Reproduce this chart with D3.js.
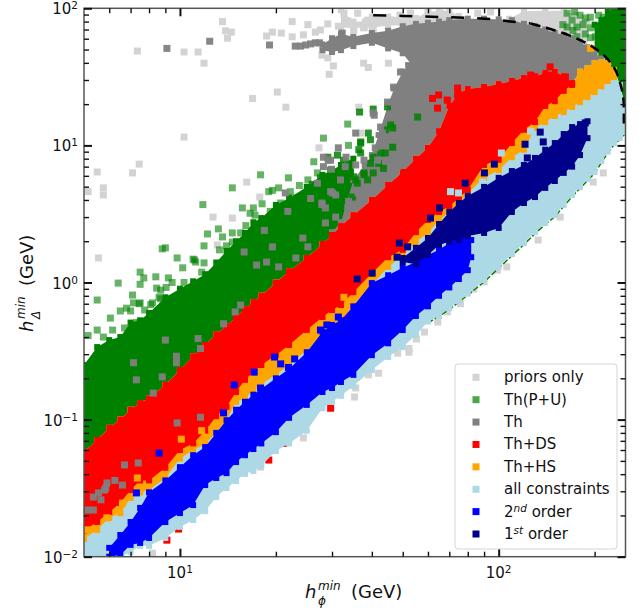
<!DOCTYPE html>
<html>
<head>
<meta charset="utf-8">
<script src="https://cdnjs.cloudflare.com/ajax/libs/d3/7.8.5/d3.min.js"></script>
<style>
    body { margin: 0; background: #fff; }
    text { font-family: "DejaVu Sans", sans-serif; fill: #111; }
</style>
</head>
<body>
<div id="chart"></div>
<script>
// all values in GeV. edges of the dense clouds first, loose points after
const grid = [5, 5.5, 6, 6.5, 7, 7.5, 8, 9, 10, 11, 12, 13, 14, 15, 16, 17, 18, 20, 22, 25, 28, 30, 32, 35, 40, 45, 50, 55, 60, 65, 70, 75, 80, 90, 100, 110, 120, 130, 140, 150, 160, 170, 180, 190, 200, 210, 220, 230, 240, 250];

const greenTop = [.25, .338, .38, .40, .51, .53, .6, .78, .9, 1.02, 1.15, 1.4, 1.7, 2.0, 2.3, 2.75, 2.95, 3.68, 4.14, 4.98, 6.1, 6.6, 7.2, 8];
const redTop = [.058, .071, .087, .10, .118, .132, .143, .179, .23, .29, .35, .42, .48, .56, .64, .72, .80, 1.0, 1.21, 1.51, 1.91, 2.22, 2.58, 3.1, 4.0, 5.15, 6.4, 8.0, 9.6, 12.7, 19.4, 24, 25.8, 26.7, 28, 29.5, 31, 32, 33.7, 34.5, 32, 28.5];
const redBottom = [.0155, .0179, .0212, .0246, .0306, .036, .036, .0445, .060, .067, .083, .106, .124, .159, .195, .222, .25, .295, .35, .45, .56, .63, .685, .85, 1.17, 1.53, 1.73, 2.33, 2.86, 3.27, 3.6, 4.14, 4.73, 7.2, 7.85, 10.4, 13, 14.8, 19.4, 21, 25, 27.6];
const orangeTipTop = [34.5, 36.7, 39.7, 40.5, 39.7, 35.5];
const orangeBottom = [.0135, .0157, .0192, .0208, .0268, .0295, .0306, .0375, .052, .060, .066, .081, .099, .135, .143, .164, .182, .212, .25, .32, .40, .475, .52, .685, .96, 1.3, 1.59, 1.98, 2.3, 2.86, 3.27, 3.75, 4.5, 5.8, 6.6, 8.2, 9.3, 13.4, 14.8, 16.4, 17.5, 19.1, 20.7, 22.5, 24.5, 27, 29.5, 31.5];
const allTipTop = [27.6, 19];
const allBottom = [.01, .01, .01, .01, .0108, .012, .012, .0137, .0165, .0185, .0215, .0272, .0317, .0356, .0402, .0422, .046, .059, .067, .083, .121, .135, .149, .176, .23, .286, .338, .414, .52, .57, .65, .73, .83, 1.04, 1.3, 1.61, 1.94, 2.33, 2.72, 3.1, 3.68, 4.35, 4.98, 5.7, 6.4, 7.7, 9.0, 10.4, 11.3, 12.5];

const capX = [28, 30, 32, 35, 40, 45, 50, 55, 60, 65, 70, 80, 90, 100, 110, 120, 130, 140, 150, 160, 170, 180, 190, 200, 210, 220, 230];
const capTop = [54.5, 60.5, 65, 62, 66, 68.5, 74, 77, 78.5, 80, 82, 84, 84, 83, 82, 77, 74, 70, 66, 64, 60.5, 57, 52, 47.5, 43, 38.5, 35.5];
const capBottom = [49.5, 48, 49.5, 53, 56, 51, 47, 35, 30, 25, 22, 24, 25, 26, 28, 29, 30, 30, 30, 28, 25, 25, 25, 28, 30, 32, 33];
const bodyX = [30, 32, 35, 38, 40, 42, 45, 47, 50, 52, 55, 60, 70, 80];
const bodyTop = [2.33, 2.75, 5.6, 7.2, 8.5, 11.9, 20, 26, 34.5, 38.5, 45.5, 70, 76, 76];
const bodyBottom = [2.0, 2.4, 2.9, 3.4, 3.8, 4.3, 4.9, 5.4, 6.0, 6.6, 7.5, 9.0, 18, 24];

const cornerX = [200, 210, 220, 230, 240, 250];
const cornerTop = [76, 82, 94, 97, 99, 100];
const cornerBottom = [49.5, 45.5, 42, 36.7, 27.6, 19];
const priorBandX = [108, 120, 140, 160, 175, 190];
const priorBandTop = [84, 95, 96, 96, 90, 80];
const priorBandBottom = [70, 70, 60, 55, 50, 45];
const priorStripX = [32, 35, 38, 40, 45, 50, 55, 60, 65, 70, 75];
const priorStripTop = [97, 80, 80, 87, 87, 86, 85, 94, 96, 96, 88];
const priorStripBottom = [72, 72, 72, 72, 75, 75, 75, 76, 78, 80, 80];

const secondX = [6, 6.5, 7, 7.5, 8, 9, 10, 11, 12, 13, 14, 15, 16, 17, 18, 20, 22, 25, 28, 30, 32, 35, 40, 45, 50, 55, 60, 65, 70, 75, 80, 82];
const secondTop = [.0116, .0144, .0179, .0227, .0295, .036, .045, .055, .063, .080, .099, .118, .135, .152, .167, .20, .234, .31, .436, .49, .53, .67, .99, 1.13, 1.28, 1.41, 1.59, 1.73, 1.94, 2.11, 2.22, 2.04];
const secondBottom = [.01, .0103, .0122, .0126, .0137, .0179, .0208, .0238, .0333, .0375, .0407, .049, .055, .061, .067, .081, .103, .128, .159, .17, .188, .212, .295, .36, .45, .57, .67, .80, .92, 1.06, 1.23, 1.53];
const firstX = [50, 55, 60, 65, 70, 75, 80, 90, 100, 110, 120, 130, 140, 150, 160, 170, 180, 190];
const firstTop = [1.51, 1.79, 2.11, 2.67, 3.27, 3.8, 4.28, 4.98, 5.8, 6.5, 7.2, 8.1, 9.3, 10.4, 12.1, 13.6, 14.3, 15];
const firstBottom = [1.41, 1.36, 1.59, 1.88, 1.98, 2.04, 2.18, 2.3, 2.5, 3.27, 3.8, 4.2, 4.9, 5.5, 6.3, 7.0, 8.5, 11.3];

const fringeX = [60, 70, 80, 90, 100, 110, 120, 130, 140, 150, 160, 170, 180, 190, 200, 210, 220, 230, 240, 250];
const fringeY = [.505, .635, .81, 1.01, 1.27, 1.57, 1.89, 2.27, 2.65, 3.02, 3.59, 4.24, 4.86, 5.56, 6.24, 7.5, 8.78, 10.1, 11.0, 12.2];
const limitLeftX = [40.4, 50.3, 70.6, 90.6, 109, 126];
const limitLeftY = [89, 88, 86, 84, 80, 77.5];
const limitRightX = [126, 159, 185, 208, 230, 241, 247, 247];
const limitRightY = [77.5, 66, 57, 48, 37, 28, 19, 13.4];

const priorPoints = [[7.35, 48.8], [10.3, 48], [11.4, 48], [11.9, 39.8], [13.6, 80], [13.9, 68.5], [14.5, 67], [14.1, 60.5], [18.7, 62.8], [19.5, 67], [20.8, 66], [22.5, 80], [22.5, 62], [24.4, 64], [25.2, 76], [26.6, 67], [27.6, 69.5], [29.1, 77], [31.4, 74], [32.7, 92], [33.6, 81], [27.9, 45.5], [29.1, 43.5], [30.3, 38], [29.4, 33], [20.2, 24.5], [16.9, 22], [21.5, 19], [10.3, 11.5], [7.45, 7.3], [7.1, 6.3], [5.5, 6.4], [5.75, 4.9], [5.75, 4.35], [5.15, 4.6], [16.2, 5.4], [17.8, 4.2], [22.5, 4.2], [12.7, 3.0], [14.6, 2.95], [13.1, 1.88], [5.55, 1.51], [27.3, 9.6], [37.7, 39.8], [39, 37], [45.1, 39.8], [36.4, 19], [36.9, 12.3], [36.1, 92], [38.8, 82], [52.9, 92], [60, 94], [65.7, 92], [86, 92], [94.3, 94], [61, 78], [69, 80], [35.1, 69.5], [37.7, 72], [40.4, 69.5], [45.8, 82], [52.9, 80], [33, 58], [49, 89], [90, 1.01], [83.6, .895], [75.9, .70], [69, .61], [64.4, .515], [58.5, .435], [55.2, .387], [52.3, .33], [52.3, .31], [48.2, .305], [42, .218], [39, .212], [35.6, .17], [35.3, .146], [213, 6.3], [198, 5.4], [156, 3.0], [133, 2.04], [106, 1.3], [99, 1.23], [24.4, .0735], [17.9, .045], [8.2, .0106]];
const greenPoints = [[33.6, 14.3], [28.2, 11.3], [33.8, 10], [26.3, 7.6], [17.9, 6.1], [14.6, 4.9], [21.9, 5.8], [25.2, 5.6], [27, 6.3], [20.4, 4.9], [19.5, 4.7], [19, 4.6], [11.8, 3.7], [15.7, 3.5], [17, 3.5], [16.6, 3.2], [20.7, 3.8], [13.2, 2.46], [14.6, 2.3], [12.2, 2.26], [13.6, 2.15], [14.6, 1.97], [11.9, 1.85], [9, 1.79], [8.8, 1.76], [9.8, 1.51], [11, 1.48], [11.9, 1.39], [10.2, 1.28], [7.5, 1.19], [7.7, 1.08], [8.4, 1.1], [9.2, 1.08], [6.4, .99], [7.5, .97], [5.5, .745], [7.1, .81], [7.5, .71], [8.6, .78], [6.05, .55], [6.5, .62], [5.5, .45], [5.75, .40], [5.15, .41], [6.15, .45], [7, .62], [8.1, .69], [8.7, .88], [7.5, .51], [7.15, .71], [7.45, .70], [6.8, .65], [7.75, .63], [7.3, .51], [6.7, .466], [8.2, .71], [8.7, .76], [9.05, .92], [9.45, 1.0], [10.3, 1.0], [11.1, 1.46], [11.7, 1.19], [8.45, .91], [17.2, 3.1], [18.1, 3.75], [19.2, 3.3], [16.1, 2.6], [22.2, 4.6], [23.7, 5.1], [15.5, 2.3], [13.3, 1.73], [11.2, 1.41], [14, 1.85], [164, 92], [180, 89], [164, 73], [159, 76], [176, 73], [184, 76], [194, 86], [204, 73], [213, 86], [230, 89], [201, 62], [194, 61], [220, 59], [170, 82], [171, 69], [187, 65], [173, 94], [187, 85], [206, 89], [194, 72], [216, 69.5], [227, 76], [208, 59], [176, 62]];
const greenOverPoints = [[36.6, 17.5], [40.4, 18.4], [44.8, 19.1], [39, 12.3], [45.8, 14.1], [46.5, 13.4], [36.9, 10.6], [39.6, 11], [46.5, 9.7], [44.1, 8.8], [40.4, 8.2], [36.9, 8.8], [35.1, 5.9], [36, 5.3], [39.6, 7.4], [42, 7.4], [43.5, 6.8], [34.8, 4.2], [37.8, 6.3], [55.7, 16.1], [37.8, 6.1], [34.3, 6.4], [32.6, 6.4], [42.6, 8.8], [36.4, 9.3], [36.9, 10.4], [44.1, 13], [34.3, 7.4], [32.6, 7.8], [29.1, 8.2], [31.2, 8.5], [35.6, 5.6], [38.8, 5.6], [40.4, 6.3], [29.7, 6.6], [27.6, 5.8], [26, 5.2]];
const greyPoints = [[9.1, 51], [12.4, 57.5], [19.1, 54], [23, 53], [23.9, 53], [24.8, 54], [25.7, 55], [26.6, 56], [27.4, 56], [29.7, 52], [30.8, 58], [32.3, 66], [31.4, 9.6], [28.2, 8.2], [29.2, 7.8], [33.2, 8.2], [28.2, 7], [29.9, 6.7], [27, 5.3], [21.4, 4.5], [25.7, 4.1], [30.1, 4.5], [21.8, 3.3], [27.9, 3.8], [28.6, 3.5], [33.6, 3.5], [18.4, 2.4], [28.6, 2.72], [30.8, 3], [24.3, 2.11], [15.9, 1.67], [19.5, 1.82], [25.2, 1.82], [23.1, 1.51], [18.7, 1.41], [17.4, 1.34], [20.4, 1.3], [15.5, .685], [14.9, .61], [13.7, .50], [9, .38], [11.4, .39], [9.75, .29], [9.75, .26], [7.15, .26], [7.3, .195], [8.8, .205], [11.6, .33], [8.25, .156], [5.55, .0292], [5.85, .0317], [5.35, .0272], [6.25, .036], [6.6, .0333], [5.15, .0219], [5.35, .0219], [7.4, .0483], [9.8, .0945], [11.6, .104], [46.8, 26.6], [44.8, 20.7], [42.6, 13.6], [40.4, 17.2], [35.6, 12.3], [49.2, 34.3], [41, 9.6], [43.5, 10.4], [41.7, 7.8], [47.4, 7.8], [48.2, 7], [43.2, 12.3], [35.6, 7.2], [33, 7], [40.7, 16.6], [29.7, 7.8], [31.9, 5.6], [29.7, 4.6], [27.9, 3.7], [30.8, 4.35], [33.8, 3.9], [36.2, 4.5], [39.6, 4.7], [37.8, 7.8], [5.9, .0345], [5.8, .0306], [5.65, .026], [6.7, .0467]];
const redPoints = [[64.8, 23.3], [62, 22], [64.3, 18.7], [74.3, 26.2], [74.3, 23.3], [69, 21.4], [126, 32.6], [145, 37.4], [143, 32.6], [162, 31.5], [111, 28.5]];
const redFringePoints = [[9.1, .0132], [9.9, .0159], [19, .0507], [21.1, .067], [29.7, .121]];
const orangePoints = [[194, 51], [11.7, .083], [10.1, .072], [7.35, .0375], [6.6, .0246], [5.1, .0157], [5.9, .0192], [32.7, .78]];
const allPoints = [[70.6, 4.6], [74.8, 4.5], [102, 8.8], [126, 12.7], [89, 5.4]];
const secondPoints = [[8.6, .057], [7.3, .0292], [13.7, .112], [14.8, .179], [17.1, .222], [17.9, .17], [19.8, .286], [20.7, .255], [21.9, .24], [22.9, .277], [27.6, .45], [28.9, .49], [31.4, .56]];
const firstPoints = [[48.8, 1.94], [51.8, 1.82], [40.1, 1.17], [61.1, 2.95], [65.2, 3.5], [78.5, 5.3], [90.2, 6.3], [96.9, 7.3], [121, 10.2], [123, 8.1], [135, 12.5], [138, 10.6], [48, 1.53], [36, 1.06], [187, 14.6]];

const xMajor = [10, 100];
const xMinor = [6, 7, 8, 9, 20, 30, 40, 50, 60, 70, 80, 90, 200];
const yMajor = [.01, .1, 1, 10, 100];
const yMinor = [.02, .03, .04, .05, .06, .07, .08, .09, .2, .3, .4, .5, .6, .7, .8, .9, 2, 3, 4, 5, 6, 7, 8, 9, 20, 30, 40, 50, 60, 70, 80, 90];
const xTickPowers = ["1", "2"];
const yTickPowers = ["\u22122", "\u22121", "0", "1", "2"];

const legendLabels = ["priors only", "Th(P+U)", "Th", "Th+DS", "Th+HS", "all constraints", "2|nd| order", "1|st| order"];
const legendColors = ["lightgray", "green", "gray", "red", "orange", "lightblue", "blue", "darkblue"];

const svg = d3.select("#chart").append("svg")
    .attr("width", 639)
    .attr("height", 609)
    .style("display", "block");

const box = { left: 84, right: 625.5, top: 8.3, bottom: 556.7 };

const xScale = d3.scaleLog().domain([5, 250]).range([box.left, box.right]);
const yScale = d3.scaleLog().domain([0.01, 100]).range([box.bottom, box.top]);

svg.append("clipPath").attr("id", "plot")
    .append("rect")
    .attr("x", box.left).attr("y", box.top)
    .attr("width", box.right - box.left).attr("height", box.bottom - box.top);

const plot = svg.append("g").attr("clip-path", "url(#plot)");

function drawPoints(points, color, opacity = 1, size = 7) {
    plot.append("g").selectAll("rect")
        .data(points)
        .enter()
        .append("rect")
        .attr("x", d => xScale(d[0]) - size / 2)
        .attr("y", d => yScale(d[1]) - size / 2)
        .attr("width", size)
        .attr("height", size)
        .attr("fill", color)
        .attr("fill-opacity", opacity);
}

// a dense cloud: filled between two edges, with squares on the edge so it stays blocky
function drawCloud(xs, upper, lower, color) {
    const area = d3.area()
        .x((d, i) => xScale(xs[i]))
        .y0((d, i) => yScale(lower[i]))
        .y1((d, i) => yScale(upper[i]));
    plot.append("path").datum(xs).attr("d", area).attr("fill", color);
    drawPoints(xs.map((x, i) => [x, upper[i]]), color, 1, 6);
    drawPoints(xs.map((x, i) => [x, lower[i]]), color, 1, 6);
}

drawCloud(priorBandX, priorBandTop, priorBandBottom, "lightgray");
drawCloud(priorStripX, priorStripTop, priorStripBottom, "lightgray");
drawPoints(priorPoints, "lightgray");

drawCloud(grid.slice(0, 24), greenTop, redBottom.slice(0, 24), "green");
drawCloud(cornerX, cornerTop, cornerBottom, "green");
drawPoints(greenPoints, "green", 0.6);

drawCloud(capX, capTop, capBottom, "gray");
drawCloud(bodyX, bodyTop, bodyBottom, "gray");
drawPoints(greenOverPoints, "green", 0.85);

// thin line of surviving points just under the light blue edge
plot.append("path")
    .attr("d", d3.line().x((d, i) => xScale(fringeX[i])).y(d => yScale(d))(fringeY))
    .attr("fill", "none")
    .attr("stroke", "green")
    .attr("stroke-width", 1.5)
    .attr("stroke-dasharray", "6 2");
drawPoints(redFringePoints, "red");

const orangeTop = redTop.concat(orangeTipTop);
drawCloud(grid, orangeTop.concat(allTipTop), allBottom, "lightblue");
drawCloud(grid.slice(0, 48), orangeTop, orangeBottom, "orange");
drawCloud(grid.slice(0, 42), redTop, redBottom, "red");

drawPoints(greyPoints, "gray", 0.95);
drawPoints(redPoints, "red");
drawPoints(orangePoints, "orange");
drawPoints(allPoints, "lightblue");
drawCloud(secondX, secondTop, secondBottom, "blue");
drawPoints(secondPoints, "blue");
drawCloud(firstX, firstTop, firstBottom, "darkblue");
drawPoints(firstPoints, "darkblue");

// dashed limit curve, the dashes get shorter on the steep part
function drawLimit(xs, ys, dash) {
    plot.append("path")
        .attr("d", d3.line().curve(d3.curveMonotoneY).x((d, i) => xScale(xs[i])).y(d => yScale(d))(ys))
        .attr("fill", "none")
        .attr("stroke", "black")
        .attr("stroke-width", 2.5)
        .attr("stroke-dasharray", dash);
}
drawLimit(limitLeftX, limitLeftY, "13 13");
drawLimit(limitRightX, limitRightY, "10 6");

// frame and ticks, inward on all four sides
svg.append("rect")
    .attr("x", box.left).attr("y", box.top)
    .attr("width", box.right - box.left).attr("height", box.bottom - box.top)
    .attr("fill", "none")
    .attr("stroke", "#555")
    .attr("stroke-width", 1.5);

function addAxis(axis, values, size, width, transform) {
    const g = svg.append("g")
        .attr("transform", transform)
        .call(axis.tickValues(values).tickSize(-size).tickFormat(""));
    g.select(".domain").remove();
    g.selectAll(".tick line").attr("stroke", "#111").attr("stroke-width", width);
}

addAxis(d3.axisBottom(xScale), xMajor, 8, 2, `translate(0, ${box.bottom})`);
addAxis(d3.axisBottom(xScale), xMinor, 5, 1.4, `translate(0, ${box.bottom})`);
addAxis(d3.axisTop(xScale), xMajor, 8, 2, `translate(0, ${box.top})`);
addAxis(d3.axisTop(xScale), xMinor, 5, 1.4, `translate(0, ${box.top})`);
addAxis(d3.axisLeft(yScale), yMajor, 8, 2, `translate(${box.left}, 0)`);
addAxis(d3.axisLeft(yScale), yMinor, 5, 1.4, `translate(${box.left}, 0)`);
addAxis(d3.axisRight(yScale), yMajor, 8, 2, `translate(${box.right}, 0)`);
addAxis(d3.axisRight(yScale), yMinor, 5, 1.4, `translate(${box.right}, 0)`);

function powerLabel(x, y, power, anchor) {
    const t = svg.append("text")
        .attr("x", x).attr("y", y)
        .attr("text-anchor", anchor)
        .style("font-size", "15px")
        .text("10");
    t.append("tspan").attr("dy", -5).style("font-size", "10.5px").text(power);
}

xMajor.forEach((v, i) => powerLabel(xScale(v), 578, xTickPowers[i], "middle"));
yMajor.forEach((v, i) => powerLabel(box.left - 6, yScale(v) + 6, yTickPowers[i], "end"));

// stacked sub and superscript, so each piece is its own text
function axisTitle(parent, sub) {
    parent.append("text").attr("x", 0).attr("y", 0)
        .style("font-size", "18px").style("font-style", "italic").text("h");
    parent.append("text").attr("x", 13).attr("y", -8.5)
        .style("font-size", "12px").style("font-style", "italic").text("min");
    parent.append("text").attr("x", 13).attr("y", 7)
        .style("font-size", "12px").style("font-style", "italic").text(sub);
    parent.append("text").attr("x", 46).attr("y", 0)
        .style("font-size", "18px").text("(GeV)");
}

axisTitle(svg.append("g").attr("transform", "translate(305, 598)"), "\u03d5");
axisTitle(svg.append("g").attr("transform", "translate(33, 332) rotate(-90)"), "\u0394");

// legend
const legend = svg.append("g");
legend.append("rect")
    .attr("x", 455).attr("y", 364)
    .attr("width", 162).attr("height", 185)
    .attr("rx", 3)
    .attr("fill", "#fff")
    .attr("fill-opacity", 0.8)
    .attr("stroke", "#d5d5d5");

const legendRow = d3.scaleLinear().domain([0, 7]).range([377.3, 534]);

legendLabels.forEach((label, i) => {
    legend.append("rect")
        .attr("x", 472.5).attr("y", legendRow(i) - 3.5)
        .attr("width", 7).attr("height", 7)
        .attr("fill", legendColors[i])
        .attr("fill-opacity", i === 1 ? 0.7 : 1);
    const parts = label.split("|");
    const t = legend.append("text")
        .attr("x", 504).attr("y", legendRow(i) + 5)
        .style("font-size", "15px")
        .text(parts[0]);
    if (parts.length > 1) {
        t.append("tspan").attr("dy", -5).style("font-size", "10.5px").style("font-style", "italic").text(parts[1]);
        t.append("tspan").attr("dy", 5).text(parts[2]);
    }
});
</script>
</body>
</html>
